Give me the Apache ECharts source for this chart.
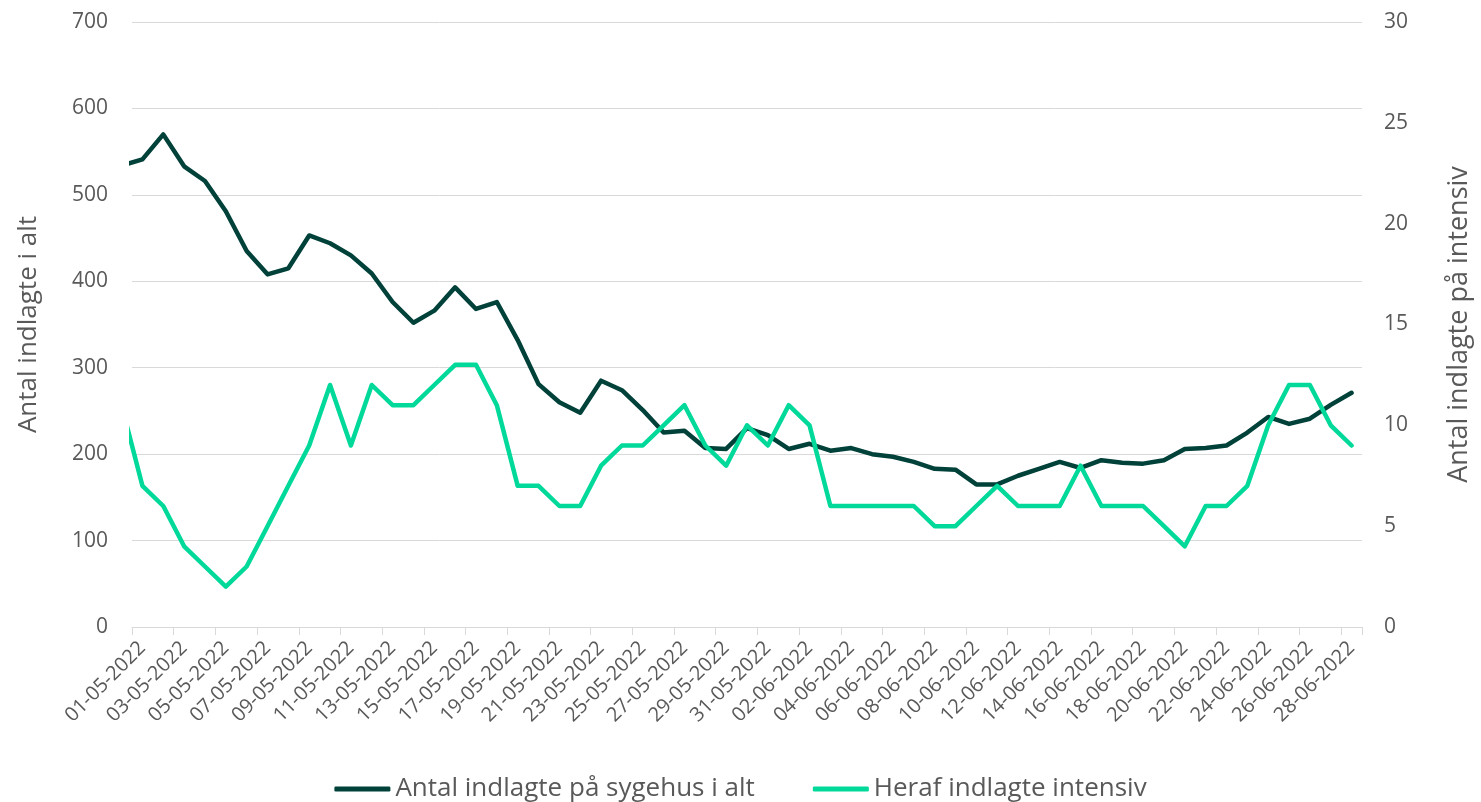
<!DOCTYPE html>
<html>
<head>
<meta charset="utf-8">
<script src="https://cdn.jsdelivr.net/npm/echarts@6/dist/echarts.min.js"></script>
<style>
  html, body { margin: 0; padding: 0; background: #fff; }
  #chart { width: 1481px; height: 802px; }
</style>
</head>
<body>
<div id="chart"></div>
<script>
// dagsdatoer (30-04 ligger uden for aksen, kun for linjens start)
const dates = [
  '30-04-2022',
  '01-05-2022','02-05-2022','03-05-2022','04-05-2022','05-05-2022','06-05-2022','07-05-2022','08-05-2022',
  '09-05-2022','10-05-2022','11-05-2022','12-05-2022','13-05-2022','14-05-2022','15-05-2022','16-05-2022',
  '17-05-2022','18-05-2022','19-05-2022','20-05-2022','21-05-2022','22-05-2022','23-05-2022','24-05-2022',
  '25-05-2022','26-05-2022','27-05-2022','28-05-2022','29-05-2022','30-05-2022','31-05-2022',
  '01-06-2022','02-06-2022','03-06-2022','04-06-2022','05-06-2022','06-06-2022','07-06-2022','08-06-2022',
  '09-06-2022','10-06-2022','11-06-2022','12-06-2022','13-06-2022','14-06-2022','15-06-2022','16-06-2022',
  '17-06-2022','18-06-2022','19-06-2022','20-06-2022','21-06-2022','22-06-2022','23-06-2022','24-06-2022',
  '25-06-2022','26-06-2022','27-06-2022','28-06-2022'
];

const indlagteIalt = [
  534,
  541, 570, 533, 516, 481, 435, 408, 415, 453, 444,
  430, 409, 376, 352, 366, 393, 368, 376, 332, 281,
  260, 248, 285, 274, 251, 225, 227, 207, 206, 230,
  222, 206, 212, 204, 207, 200, 197, 191, 183, 182,
  165, 165, 175, 183, 191, 184, 193, 190, 189, 193,
  206, 207, 210, 225, 243, 235, 241, 257, 271
];

const indlagteIntensiv = [
  11,
  7, 6, 4, 3, 2, 3, 5, 7, 9, 12,
  9, 12, 11, 11, 12, 13, 13, 11, 7, 7,
  6, 6, 8, 9, 9, 10, 11, 9, 8, 10,
  9, 11, 10, 6, 6, 6, 6, 6, 5, 5,
  6, 7, 6, 6, 6, 8, 6, 6, 6, 5,
  4, 6, 6, 7, 10, 12, 12, 10, 9
];

const legendNames = ['Antal indlagte på sygehus i alt', 'Heraf indlagte intensiv'];
const colors = ['#00413A', '#00D99A'];

const chart = echarts.init(document.getElementById('chart'));
const textColor = '#595959';
const fontFamily = '"Open Sans", Lato, sans-serif';

// vis hver anden dato, startende ved 01-05 (indeks 1)
function everyOther(idx) {
  return idx % 2 === 1;
}

let option = {
  animation: false,
  textStyle: { fontFamily: fontFamily },
  grid: {
    left: 132,
    right: 113,
    top: 22,
    bottom: 175
  },
  legend: {
    data: legendNames,
    top: 771,
    left: 'center',
    itemGap: 58,
    itemWidth: 56,
    itemHeight: 5,
    icon: 'roundRect',
    textStyle: { color: textColor, fontSize: 26, fontFamily: fontFamily }
  },
  xAxis: {
    type: 'category',
    data: dates,
    min: 1,
    boundaryGap: true,
    axisLine: { lineStyle: { color: '#d9d9d9', width: 1 } },
    axisTick: { show: true, interval: everyOther, length: 8, lineStyle: { color: '#d9d9d9' } },
    axisLabel: {
      interval: everyOther,
      rotate: 45,
      margin: 18,
      color: textColor,
      fontSize: 20,
      fontFamily: fontFamily
    },
    splitLine: { show: false }
  },
  yAxis: [
    {
      type: 'value',
      min: 0,
      max: 700,
      interval: 100,
      name: 'Antal indlagte i alt',
      nameLocation: 'middle',
      nameGap: 90,
      nameTextStyle: { color: textColor, fontSize: 26, fontFamily: fontFamily },
      axisLine: { show: false },
      axisTick: { show: false },
      axisLabel: { color: textColor, fontSize: 21, margin: 24, fontFamily: fontFamily },
      splitLine: { lineStyle: { color: '#d9d9d9', width: 1 } }
    },
    {
      type: 'value',
      min: 0,
      max: 30,
      interval: 5,
      position: 'right',
      name: 'Antal indlagte på intensiv',
      nameLocation: 'middle',
      nameGap: 84,
      nameTextStyle: { color: textColor, fontSize: 27, fontFamily: fontFamily },
      axisLine: { show: false },
      axisTick: { show: false },
      axisLabel: { color: textColor, fontSize: 21, margin: 22, fontFamily: fontFamily },
      splitLine: { show: false }
    }
  ],
  series: [
    {
      name: legendNames[0],
      type: 'line',
      yAxisIndex: 0,
      data: indlagteIalt,
      showSymbol: false,
      symbol: 'none',
      clip: true,
      color: colors[0],
      lineStyle: { width: 4.5, join: 'round', cap: 'round' }
    },
    {
      name: legendNames[1],
      type: 'line',
      yAxisIndex: 1,
      data: indlagteIntensiv,
      showSymbol: false,
      symbol: 'none',
      clip: true,
      color: colors[1],
      lineStyle: { width: 4.5, join: 'round', cap: 'round' }
    }
  ]
};

chart.setOption(option);
</script>
</body>
</html>
